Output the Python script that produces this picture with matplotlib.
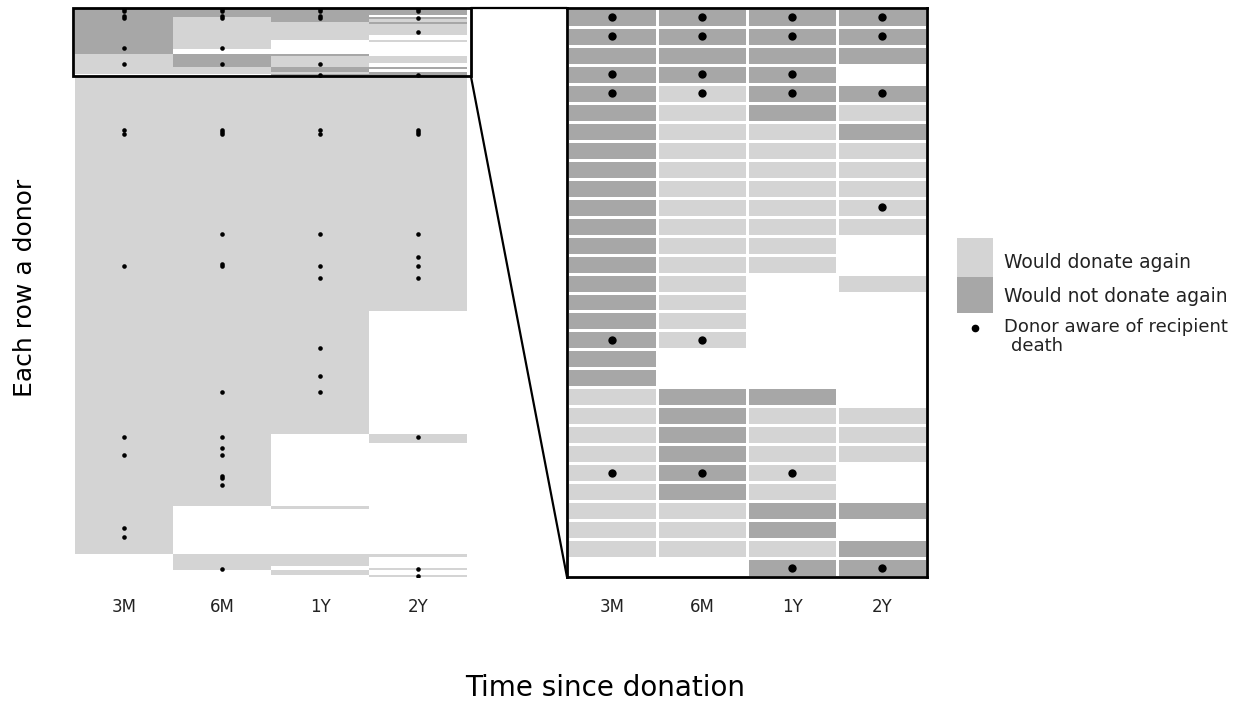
import numpy as np
import matplotlib.pyplot as plt
from matplotlib.colors import ListedColormap
from matplotlib.patches import Rectangle, ConnectionPatch

plt.rcParams['font.family'] = ['DejaVu Sans']

time_points = ['3M', '6M', '1Y', '2Y']

# one letter per time point: D = would not donate again, L = would donate again, W = no answer
row_patterns = ['DDDD', 'DDDW', 'DLDD', 'DLDL', 'DLLD', 'DLLL', 'DLLW', 'DLWL', 'DLWW', 'DWWW',
                'LDDW', 'LDLL', 'LDLW', 'LLDD', 'LLDW', 'LLLD', 'WWDD',
                'LLLL', 'LLLW', 'LLWL', 'LLWW', 'LWLW', 'LWWW',
                'WLLL', 'WLLW', 'WLWW', 'WLWL', 'WWLW', 'WWWL']
row_counts = [3, 1, 1, 1, 1, 5, 2, 1, 3, 2,
              1, 3, 2, 1, 1, 1, 1,
              103, 54, 4, 28, 1, 20,
              1, 4, 1, 1, 2, 1]
n_zoom = 30  # donors who ever said they would not donate again

# donor aware of recipient death: row of donor, index of time point
aware_rows = [0, 0, 0, 0, 1, 1, 1, 1, 3, 3, 3, 4, 4, 4, 4, 10, 17, 17, 24, 24, 24, 29, 29,
              53, 55, 53, 54, 55, 53, 55, 53, 54, 55, 99, 99, 99, 113, 112, 113, 113, 113,
              118, 118, 109,
              149, 161, 168, 168, 188, 196, 188, 193, 196, 205, 206, 209, 188, 228, 232,
              246, 246, 249]
aware_cols = [0, 1, 2, 3, 0, 1, 2, 3, 0, 1, 2, 0, 1, 2, 3, 3, 0, 1, 0, 1, 2, 2, 3,
              0, 0, 1, 1, 1, 2, 2, 3, 3, 3, 1, 2, 3, 0, 1, 1, 2, 3,
              2, 3, 3,
              2, 2, 2, 1, 0, 0, 1, 1, 1, 1, 1, 1, 3, 0, 0,
              1, 3, 3]

codes = {'W': 0, 'L': 1, 'D': 2}
matrix = np.array([[codes[c] for c in p]
                   for p, n in zip(row_patterns, row_counts) for _ in range(n)])
n_rows = matrix.shape[0]
aware_rows = np.array(aware_rows)
aware_cols = np.array(aware_cols)

light = '#d4d4d4'
dark = '#a7a7a7'
cmap = ListedColormap(['white', light, dark])

W, H = 1256, 704
fig = plt.figure(figsize=(W / 100, H / 100), dpi=100)


def px_axes(x0, y0, x1, y1):
    return fig.add_axes([x0 / W, 1 - y1 / H, (x1 - x0) / W, (y1 - y0) / H])


ax_all = px_axes(75, 8, 467, 577)
ax_zoom = px_axes(567, 8, 927, 577)

# all donors
ax_all.pcolormesh(np.arange(5), np.arange(n_rows + 1), matrix, cmap=cmap, vmin=0, vmax=2)
ax_all.plot(aware_cols + 0.5, aware_rows + 0.5, 'o', ms=3.3, color='black', mec='none')
ax_all.set_xlim(0, 4)
ax_all.set_ylim(n_rows, 0)
for s in ax_all.spines.values():
    s.set_visible(False)
box = Rectangle((-0.02, 0), 4.06, n_zoom, fill=False, lw=2, ec='black', clip_on=False)
ax_all.add_patch(box)

# zoomed donors
ax_zoom.pcolormesh(np.arange(5), np.arange(n_zoom + 1), matrix[:n_zoom], cmap=cmap,
                   vmin=0, vmax=2, edgecolors='white', linewidth=1.8)
sel = aware_rows < n_zoom
ax_zoom.plot(aware_cols[sel] + 0.5, aware_rows[sel] + 0.5, 'o', ms=6, color='black', mec='none')
ax_zoom.set_xlim(0, 4)
ax_zoom.set_ylim(n_zoom, 0)
for s in ax_zoom.spines.values():
    s.set_linewidth(2)
    s.set_color('black')

for ax in (ax_all, ax_zoom):
    ax.set_xticks(np.arange(4) + 0.5, time_points)
    ax.set_yticks([])
    ax.tick_params(axis='x', length=0, pad=15, labelsize=12, colors='#222222')

# zoom connectors
for ya, yb in ((0, 1), (n_zoom, 0)):
    con = ConnectionPatch(xyA=(4.04, ya), coordsA=ax_all.transData,
                          xyB=(0, yb), coordsB=ax_zoom.transAxes, color='black', lw=1.6)
    fig.add_artist(con)

fig.text(605 / W, 1 - 688 / H, 'Time since donation', ha='center', va='center', fontsize=20)
fig.text(25 / W, 1 - 288 / H, 'Each row a donor', ha='center', va='center',
         rotation=90, fontsize=18)

# legend
lg = px_axes(950, 230, 1250, 370)
lg.set_xlim(950, 1250)
lg.set_ylim(370, 230)
lg.axis('off')
lg.add_patch(Rectangle((957, 238), 36, 39, fc=light, ec='none'))
lg.add_patch(Rectangle((957, 277), 36, 36, fc=dark, ec='none'))
lg.plot([975], [328], 'o', ms=4.5, color='black')
lg.text(1004, 262, 'Would donate again', va='center', fontsize=13.5, color='#222222')
lg.text(1004, 297, 'Would not donate again', va='center', fontsize=13.5, color='#222222')
lg.text(1004, 327, 'Donor aware of recipient', va='center', fontsize=13, color='#222222')
lg.text(1011, 346, 'death', va='center', fontsize=13, color='#222222')

fig.savefig('out.png', dpi=100)
